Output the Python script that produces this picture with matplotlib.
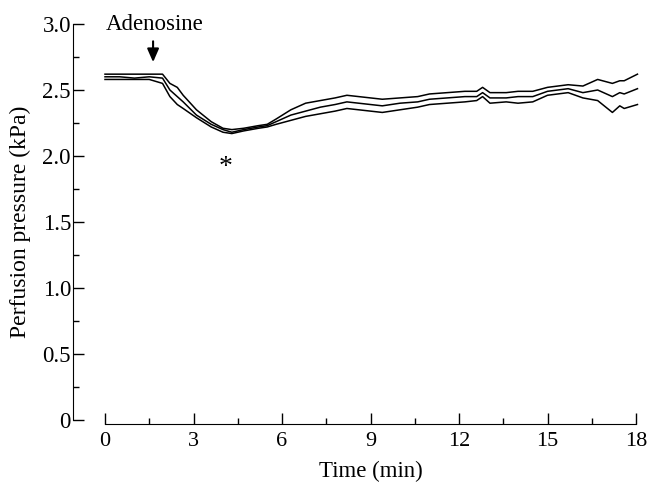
import numpy as np
import matplotlib
matplotlib.use("Agg")
import matplotlib.pyplot as plt

plt.rcParams["font.family"] = ["Liberation Serif", "DejaVu Serif"]

# time (min) and perfusion pressure (kPa): mean + SEM and mean - SEM
time = [0.0, 0.5, 1.0, 1.5, 1.95, 2.2, 2.45, 2.65, 3.1, 3.6, 4.0, 4.3, 4.7, 5.2, 5.5,
        5.8, 6.3, 6.8, 7.3, 7.8, 8.2, 8.6, 9.0, 9.4, 10.0, 10.6, 11.0, 11.6, 12.2,
        12.6, 12.8, 13.05, 13.6, 14.0, 14.5, 15.0, 15.7, 16.2, 16.7, 17.2, 17.45,
        17.6, 18.05]
upper = [2.62, 2.62, 2.62, 2.62, 2.62, 2.55, 2.52, 2.46, 2.35, 2.26, 2.21, 2.20, 2.21,
         2.23, 2.24, 2.28, 2.35, 2.40, 2.42, 2.44, 2.46, 2.45, 2.44, 2.43, 2.44, 2.45,
         2.47, 2.48, 2.49, 2.49, 2.52, 2.48, 2.48, 2.49, 2.49, 2.52, 2.54, 2.53, 2.58,
         2.55, 2.57, 2.57, 2.62]
mean = [2.60, 2.60, 2.59, 2.60, 2.59, 2.50, 2.45, 2.41, 2.31, 2.24, 2.20, 2.18, 2.20,
        2.22, 2.23, 2.26, 2.31, 2.34, 2.37, 2.39, 2.41, 2.40, 2.39, 2.38, 2.40, 2.41,
        2.43, 2.44, 2.45, 2.45, 2.48, 2.44, 2.44, 2.45, 2.45, 2.49, 2.51, 2.48, 2.50,
        2.45, 2.48, 2.47, 2.51]
lower = [2.58, 2.58, 2.58, 2.58, 2.55, 2.45, 2.39, 2.36, 2.29, 2.22, 2.18, 2.17, 2.19,
         2.21, 2.22, 2.24, 2.27, 2.30, 2.32, 2.34, 2.36, 2.35, 2.34, 2.33, 2.35, 2.37,
         2.39, 2.40, 2.41, 2.42, 2.45, 2.40, 2.41, 2.40, 2.41, 2.46, 2.48, 2.44, 2.42,
         2.33, 2.38, 2.36, 2.39]

xticks = [0, 3, 6, 9, 12, 15, 18]
xminor = [1.5, 4.5, 7.5, 10.5, 13.5, 16.5]
yticks = [0, 0.5, 1.0, 1.5, 2.0, 2.5, 3.0]
yticklabels = ["0", "0.5", "1.0", "1.5", "2.0", "2.5", "3.0"]
yminor = [0.25, 0.75, 1.25, 1.75, 2.25, 2.75]

fig = plt.figure(figsize=(6.48, 4.83), dpi=100)
ax = fig.add_axes([105 / 648, 63 / 483, 531 / 648, 396 / 483])

for series in (upper, mean, lower):
    ax.plot(time, series, color="black", lw=1.1, clip_on=False)

ax.set_xlim(0, 18)
ax.set_ylim(0, 3)
ax.spines["top"].set_visible(False)
ax.spines["right"].set_visible(False)
ax.spines["left"].set_position(("outward", 23))
ax.spines["bottom"].set_position(("outward", 3))

ax.set_xticks(xticks)
ax.set_xticks(xminor, minor=True)
ax.set_yticks(yticks)
ax.set_yticklabels(yticklabels)
ax.set_yticks(yminor, minor=True)
ax.tick_params(direction="in", which="major", length=8, width=1)
ax.tick_params(direction="in", which="minor", length=4, width=1)
ax.tick_params(axis="x", labelsize=16, pad=6)
ax.tick_params(axis="y", labelsize=16.5, pad=1.5)

ax.set_xlabel("Time (min)", fontsize=16.5, labelpad=7)
ax.set_ylabel("Perfusion pressure (kPa)", fontsize=17, labelpad=8)

ax.annotate("", xy=(1.63, 2.69), xytext=(1.63, 2.89),
            arrowprops=dict(arrowstyle="-|>,head_width=0.35,head_length=0.8",
                            color="black", lw=1.5), annotation_clip=False)
ax.text(1.7, 2.92, "Adenosine", fontsize=16.5, ha="center", va="bottom")
ax.text(4.1, 1.91, "*", fontsize=20, ha="center", va="center")

fig.savefig("out.png", dpi=100)
